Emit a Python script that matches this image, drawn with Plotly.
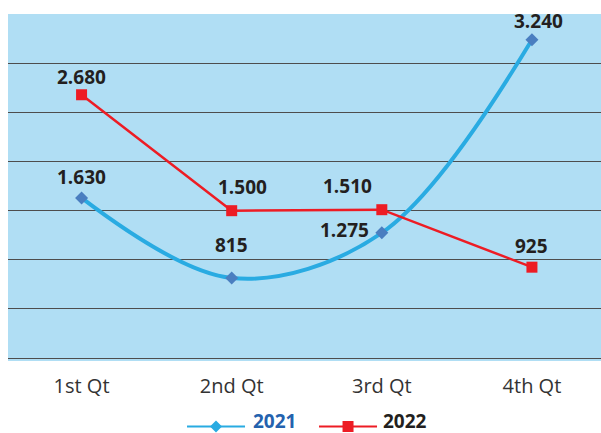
import plotly.graph_objects as go

categories = ["1st Qt", "2nd Qt", "3rd Qt", "4th Qt"]
values_2021 = [1630, 815, 1275, 3240]
values_2022 = [2680, 1500, 1510, 925]
labels_2021 = ["1.630", "815", "1.275", "3.240"]
labels_2022 = ["2.680", "1.500", "1.510", "925"]

# label offsets in pixels (x, y-up)
offs_2021 = [(0, 21), (0, 33), (-37, 3), (7, 19)]
offs_2022 = [(0, 18), (11, 24), (-34, 24), (0, 21)]

BLUE_LINE = "#29ABE2"
BLUE_MARK = "#4A7EC0"
RED = "#ED1C24"
LABEL = "#231F20"
FONT = "Open Sans"

fig = go.Figure()
fig.add_trace(go.Scatter(
    x=categories, y=values_2021, mode="lines+markers", name="2021",
    line=dict(color=BLUE_LINE, width=4, shape="spline", smoothing=1.0),
    marker=dict(symbol="diamond", size=10, color=BLUE_MARK),
    cliponaxis=False, showlegend=False,
))
fig.add_trace(go.Scatter(
    x=categories, y=values_2022, mode="lines+markers", name="2022",
    line=dict(color=RED, width=2.5),
    marker=dict(symbol="square", size=11, color=RED),
    cliponaxis=False, showlegend=False,
))

annotations = []
for cat, v, lab, (dx, dy) in zip(categories, values_2021, labels_2021, offs_2021):
    annotations.append(dict(x=cat, y=v, text=lab, showarrow=False, xshift=dx, yshift=dy,
                            font=dict(family=FONT, size=19, color=LABEL, weight="bold")))
for cat, v, lab, (dx, dy) in zip(categories, values_2022, labels_2022, offs_2022):
    annotations.append(dict(x=cat, y=v, text=lab, showarrow=False, xshift=dx, yshift=dy,
                            font=dict(family=FONT, size=19, color=LABEL, weight="bold")))

# manual legend
LEG_Y = -0.1888
annotations.append(dict(x=0.4115, y=LEG_Y, xref="paper", yref="paper", text="2021",
                        showarrow=False, xanchor="left", yanchor="middle", yshift=6,
                        borderpad=0,
                        font=dict(family=FONT, size=19, color="#2462AE", weight="bold")))
annotations.append(dict(x=0.6307, y=LEG_Y, xref="paper", yref="paper", text="2022",
                        showarrow=False, xanchor="left", yanchor="middle", yshift=6,
                        borderpad=0,
                        font=dict(family=FONT, size=19, color=LABEL, weight="bold")))

shapes = [
    dict(type="line", xref="paper", yref="paper", x0=0.3019, x1=0.3997, y0=LEG_Y, y1=LEG_Y,
         line=dict(color=BLUE_LINE, width=2)),
    dict(type="path", xref="paper", yref="paper", xsizemode="pixel", ysizemode="pixel",
         xanchor=0.3508, yanchor=LEG_Y, path="M-6,0 L0,-6 L6,0 L0,6 Z",
         fillcolor=BLUE_LINE, line=dict(width=0)),
    dict(type="line", xref="paper", yref="paper", x0=0.5245, x1=0.6223, y0=LEG_Y, y1=LEG_Y,
         line=dict(color=RED, width=2)),
    dict(type="path", xref="paper", yref="paper", xsizemode="pixel", ysizemode="pixel",
         xanchor=0.5734, yanchor=LEG_Y, path="M-5.5,-5.5 L5.5,-5.5 L5.5,5.5 L-5.5,5.5 Z",
         fillcolor=RED, line=dict(width=0)),
]

fig.update_layout(
    width=601, height=433,
    margin=dict(l=8, r=0, t=14, b=72),
    paper_bgcolor="white",
    plot_bgcolor="#B0DEF4",
    font=dict(family=FONT),
    annotations=annotations,
    shapes=shapes,
    xaxis=dict(range=[-0.49, 3.46], showgrid=False, zeroline=False, showline=False,
               ticks="outside", ticklen=7, tickcolor="rgba(0,0,0,0)",
               tickfont=dict(family=FONT, size=20, color="#333333")),
    yaxis=dict(range=[-30, 3502], tick0=0, dtick=500, showgrid=True,
               gridcolor="#4d4d4d", gridwidth=1.2, zeroline=False, showline=False,
               showticklabels=False, ticks=""),
)

fig.write_html("out.html")
